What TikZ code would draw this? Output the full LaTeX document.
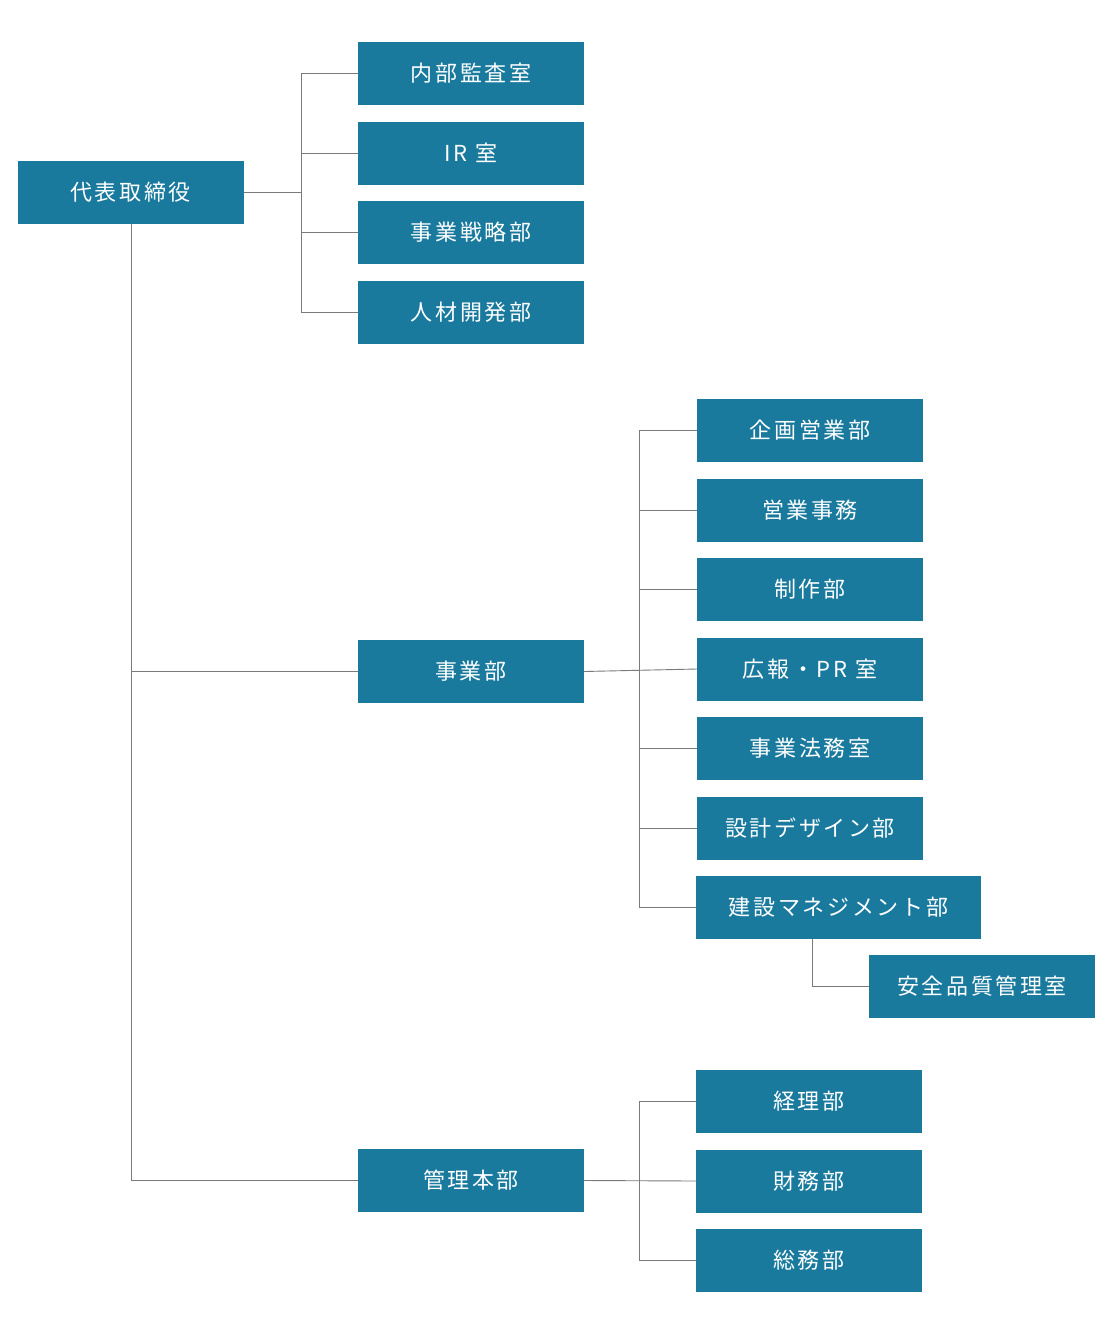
\documentclass[tikz,border=0pt]{standalone}
\usepackage{fontspec}
\newfontfamily\jpfont[LetterSpace=12]{Noto Sans CJK JP}
\usetikzlibrary{positioning}
\definecolor{boxblue}{HTML}{1A7A9E}
\definecolor{linegray}{HTML}{7A7A7A}
\tikzset{%
	unit/.style={
		fill=boxblue,
		text=white,
		font=\jpfont\fontsize{22}{26}\selectfont,
		minimum width=226pt,
		minimum height=63pt,
		inner sep=0pt
	},
	link/.style={
		draw=linegray,
		line width=0.9pt
	},
}
\begin{document}
\begin{tikzpicture}[x=1pt, y=-1pt]
	\useasboundingbox (0,0) rectangle (1111,1342);
	
	\node [unit] (ceo) at (130.5,192.5) {代表取締役};
	
	\foreach \l/\n [count=\y] in {内部監査室/audit, IR 室/ir, 事業戦略部/strategy, 人材開発部/hr}
	\node [unit] (\n) at (471,73.5+\y*79.5-79.5) {\l};
	
	\node [unit] (biz) at (471,671.5) {事業部};
	\node [unit] (admin) at (471,1180.5) {管理本部};
	
	\foreach \l/\n [count=\y] in {企画営業部/plan, 営業事務/office, 制作部/prod, 広報・PR 室/pr, 事業法務室/legal, 設計デザイン部/design}
	\node [unit] (\n) at (810,430.5+\y*79.5-79.5) {\l};
	\node [unit, minimum width=285pt] (cm) at (838.5,907.5) {建設マネジメント部};
	\node [unit] (safety) at (982,986.5) {安全品質管理室};
	
	\foreach \l/\n [count=\y] in {経理部/acct, 財務部/fin, 総務部/gen}
	\node [unit] (\n) at (809,1101.5+\y*79.5-79.5) {\l};
	
	% top branch
	\draw [link] (ceo.east) -- (301,192.5);
	\draw [link] (audit.west) -| (301,0 |- hr.west) -- (hr.west);
	\foreach \n in {ir, strategy}
	\draw [link] (301,0 |- \n.west) -- (\n.west);
	
	% trunk
	\draw [link] (ceo.south -| 131,0) |- (admin.west);
	\draw [link] (131,0 |- biz.west) -- (biz.west);
	
	% business division
	\draw [link] (biz.east) -- (pr.west);
	\draw [link] (plan.west) -| (639,0 |- cm.west) -- (cm.west);
	\foreach \n in {office, prod, legal, design}
	\draw [link] (639,0 |- \n.west) -- (\n.west);
	\draw [link] (cm.south -| 812,0) |- (safety.west);
	
	% administration
	\draw [link] (admin.east) -- (fin.west);
	\draw [link] (acct.west) -| (639,0 |- gen.west) -- (gen.west);
\end{tikzpicture}
\end{document}
